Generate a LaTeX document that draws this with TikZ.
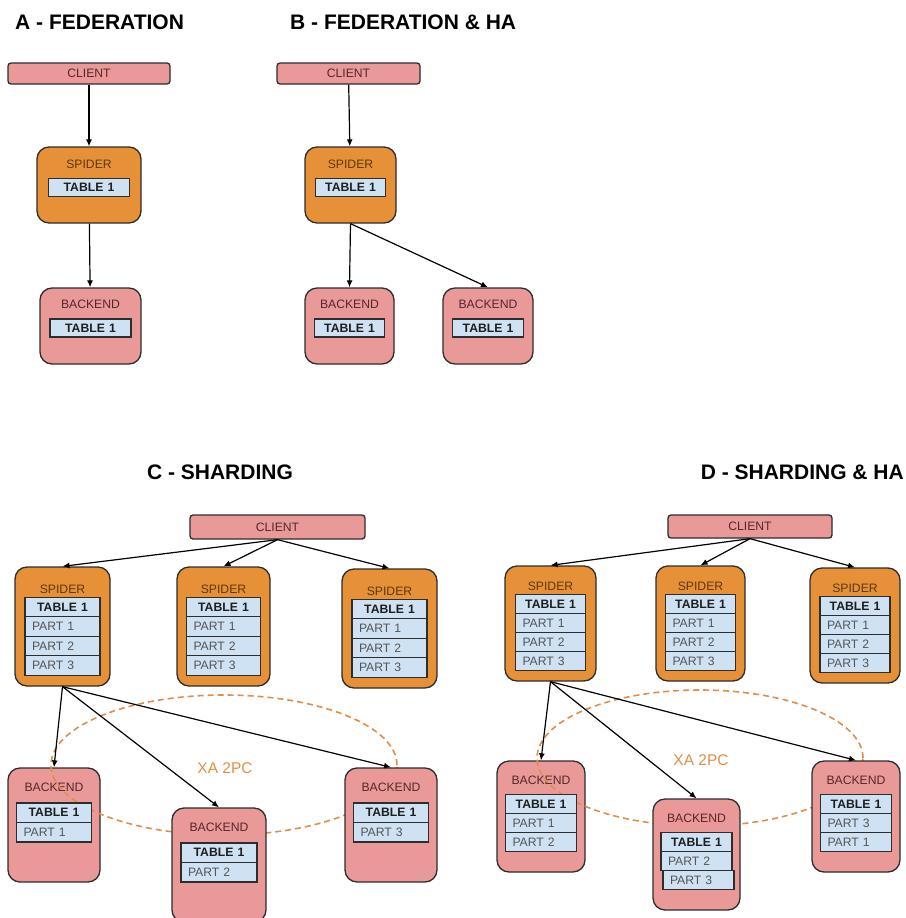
\documentclass[tikz,border=0pt]{standalone}
\usepackage{fontspec}
\setmainfont{Liberation Sans}
\usetikzlibrary{arrows.meta,positioning}
\definecolor{pinkfill}{RGB}{234,153,153}
\definecolor{orangefill}{RGB}{230,145,56}
\definecolor{bluefill}{RGB}{207,226,243}
\definecolor{edge}{RGB}{45,45,45}
\definecolor{xaorange}{RGB}{222,142,72}
\definecolor{spidertext}{RGB}{95,55,15}
\definecolor{backtext}{RGB}{85,40,40}
\definecolor{parttext}{RGB}{85,85,85}
\definecolor{darktext}{RGB}{30,30,30}

\begin{document}
\begin{tikzpicture}[x=1pt,y=-1pt,
    every node/.style={font=\fontsize{12.2}{13}\selectfont,inner sep=0pt},
    paneltitle/.style={font=\fontsize{21}{23}\selectfont\bfseries,text=black},
    client/.style={draw=edge,fill=pinkfill,line width=1.3pt,rounded corners=3pt,minimum height=21pt,text=backtext},
    spider/.style={draw=edge,fill=orangefill,line width=1.3pt,rounded corners=12pt},
    backend/.style={draw=edge,fill=pinkfill,line width=1.3pt,rounded corners=12pt},
    spname/.style={text=spidertext},
    bename/.style={text=backtext},
    tblcell/.style={draw=edge,fill=bluefill,line width=1.3pt,outer sep=0pt,inner xsep=7pt,minimum height=19.5pt,text width=#1,align=left,text=parttext},
    tblhead/.style={tblcell=#1,align=center,text=darktext,font=\fontsize{12.2}{13}\selectfont\bfseries},
    link/.style={-{Latex[length=7pt,width=6pt]},line width=1.2pt},
    xa/.style={draw=xaorange,line width=1.6pt,dash pattern=on 6pt off 4pt},
    xatext/.style={font=\fontsize{15.5}{17}\selectfont,text=xaorange}]
  \useasboundingbox (0,0) rectangle (905,918);

  % A - federation
  \node[paneltitle,anchor=west] (tA) at (15,22.5) {A - FEDERATION};
  \node[client,minimum width=162pt] (clA) at (89,73.5) {CLIENT};
  \node[spider,minimum width=104pt,minimum height=76pt] (spA) at (89,185) {};
  \node[spname,below=13pt of spA.north] (spAl) {SPIDER};
  \node[tblhead=67pt,minimum height=18pt,below=10pt of spAl] (spAt) {TABLE 1};
  \node[backend,minimum width=101pt,minimum height=76pt] (beA) at (90.5,326) {};
  \node[bename,below=12.5pt of beA.north] (beAl) {BACKEND};
  \node[tblhead=67pt,minimum height=18pt,below=10pt of beAl] (beAt) {TABLE 1};
  \draw[link] (clA) -- (spA);
  \draw[link] (spA) -- (beA);

  % B - federation & HA
  \node[paneltitle,anchor=west] (tB) at (290,22.5) {B - FEDERATION \& HA};
  \node[client,minimum width=143pt] (clB) at (348.5,73.5) {CLIENT};
  \node[spider,minimum width=91pt,minimum height=76pt] (spB) at (350.5,185) {};
  \node[spname,below=13pt of spB.north] (spBl) {SPIDER};
  \node[tblhead=56pt,minimum height=18pt,below=10pt of spBl] (spBt) {TABLE 1};
  \node[backend,minimum width=89pt,minimum height=76pt] (beB1) at (349.5,326) {};
  \node[bename,below=12.5pt of beB1.north] (beB1l) {BACKEND};
  \node[tblhead=56pt,minimum height=18pt,below=10pt of beB1l] (beB1t) {TABLE 1};
  \node[backend,minimum width=90pt,minimum height=76pt] (beB2) at (488,326) {};
  \node[bename,below=12.5pt of beB2.north] (beB2l) {BACKEND};
  \node[tblhead=57pt,minimum height=18pt,below=10pt of beB2l] (beB2t) {TABLE 1};
  \draw[link] (clB) -- (spB);
  \draw[link] (spB.south) -- (beB1.north);
  \draw[link] (spB.south) -- (beB2.north);

  % C - sharding
  \node[paneltitle] (tC) at (220,472) {C - SHARDING};
  \node[client,minimum width=175pt,minimum height=24pt] (clC) at (277.5,527) {CLIENT};
  \node[spider,minimum width=95pt,minimum height=119pt] (spC1) at (62.5,626.5) {};
  \node[spname,below=18pt of spC1.north] (spC1l) {SPIDER};
  \node[tblhead=61pt,below=3.8pt of spC1l] (spC1t) {TABLE 1};
  \node[tblcell=61pt,below=0pt of spC1t] (spC1a) {PART 1};
  \node[tblcell=61pt,below=0pt of spC1a] (spC1b) {PART 2};
  \node[tblcell=61pt,below=0pt of spC1b] (spC1c) {PART 3};
  \node[spider,minimum width=93pt,minimum height=119pt] (spC2) at (223.5,626.5) {};
  \node[spname,below=18pt of spC2.north] (spC2l) {SPIDER};
  \node[tblhead=60pt,below=3.8pt of spC2l] (spC2t) {TABLE 1};
  \node[tblcell=60pt,below=0pt of spC2t] (spC2a) {PART 1};
  \node[tblcell=60pt,below=0pt of spC2a] (spC2b) {PART 2};
  \node[tblcell=60pt,below=0pt of spC2b] (spC2c) {PART 3};
  \node[spider,minimum width=95pt,minimum height=119pt] (spC3) at (389.5,628.5) {};
  \node[spname,below=18pt of spC3.north] (spC3l) {SPIDER};
  \node[tblhead=61pt,below=3.8pt of spC3l] (spC3t) {TABLE 1};
  \node[tblcell=61pt,below=0pt of spC3t] (spC3a) {PART 1};
  \node[tblcell=61pt,below=0pt of spC3a] (spC3b) {PART 2};
  \node[tblcell=61pt,below=0pt of spC3b] (spC3c) {PART 3};
  \node[backend,minimum width=92pt,minimum height=114pt] (beC1) at (54,825) {};
  \node[bename,below=15.5pt of beC1.north] (beC1l) {BACKEND};
  \draw[xa] (224,765) ellipse [x radius=173pt,y radius=70pt];
  \node[backend,minimum width=94pt,minimum height=114pt] (beC2) at (219,865) {};
  \node[bename,below=15.5pt of beC2.north] (beC2l) {BACKEND};
  \node[backend,minimum width=92pt,minimum height=114pt] (beC3) at (391,825) {};
  \node[bename,below=15.5pt of beC3.north] (beC3l) {BACKEND};
  \node[tblhead=61pt,below=11pt of beC1l] (beC1t) {TABLE 1};
  \node[tblcell=61pt,below=0pt of beC1t] (beC1a) {PART 1};
  \node[tblhead=62pt,below=11pt of beC2l] (beC2t) {TABLE 1};
  \node[tblcell=62pt,below=0pt of beC2t] (beC2a) {PART 2};
  \node[tblhead=61pt,below=11pt of beC3l] (beC3t) {TABLE 1};
  \node[tblcell=61pt,below=0pt of beC3t] (beC3a) {PART 3};
  \node[xatext] (xaC) at (225,768) {XA 2PC};
  \draw[link] (clC.south) -- (spC1.north);
  \draw[link] (clC.south) -- (spC2.north);
  \draw[link] (clC.south) -- (spC3.north);
  \draw[link] (spC1.south) -- (beC1.north);
  \draw[link] (spC1.south) -- (beC2.north);
  \draw[link] (spC1.south) -- (beC3.north);

  % D - sharding & HA
  \node[paneltitle,anchor=east] (tD) at (904,472) {D - SHARDING \& HA};
  \node[client,minimum width=164pt,minimum height=23pt] (clD) at (750,526.5) {CLIENT};
  \node[spider,minimum width=91pt,minimum height=115pt] (spD1) at (550.5,623.5) {};
  \node[spname,below=16pt of spD1.north] (spD1l) {SPIDER};
  \node[tblhead=56pt,minimum height=19pt,below=4pt of spD1l] (spD1t) {TABLE 1};
  \node[tblcell=56pt,minimum height=19pt,below=0pt of spD1t] (spD1a) {PART 1};
  \node[tblcell=56pt,minimum height=19pt,below=0pt of spD1a] (spD1b) {PART 2};
  \node[tblcell=56pt,minimum height=19pt,below=0pt of spD1b] (spD1c) {PART 3};
  \node[spider,minimum width=89pt,minimum height=115pt] (spD2) at (700.5,623.5) {};
  \node[spname,below=16pt of spD2.north] (spD2l) {SPIDER};
  \node[tblhead=56pt,minimum height=19pt,below=4pt of spD2l] (spD2t) {TABLE 1};
  \node[tblcell=56pt,minimum height=19pt,below=0pt of spD2t] (spD2a) {PART 1};
  \node[tblcell=56pt,minimum height=19pt,below=0pt of spD2a] (spD2b) {PART 2};
  \node[tblcell=56pt,minimum height=19pt,below=0pt of spD2b] (spD2c) {PART 3};
  \node[spider,minimum width=90pt,minimum height=115pt] (spD3) at (855,625.5) {};
  \node[spname,below=16pt of spD3.north] (spD3l) {SPIDER};
  \node[tblhead=56pt,minimum height=19pt,below=4pt of spD3l] (spD3t) {TABLE 1};
  \node[tblcell=56pt,minimum height=19pt,below=0pt of spD3t] (spD3a) {PART 1};
  \node[tblcell=56pt,minimum height=19pt,below=0pt of spD3a] (spD3b) {PART 2};
  \node[tblcell=56pt,minimum height=19pt,below=0pt of spD3b] (spD3c) {PART 3};
  \node[backend,minimum width=88pt,minimum height=111pt] (beD1) at (541,816.5) {};
  \node[bename,below=15pt of beD1.north] (beD1l) {BACKEND};
  \draw[xa] (700,758) ellipse [x radius=163pt,y radius=68pt];
  \node[backend,minimum width=87pt,minimum height=111pt] (beD2) at (696.5,854.5) {};
  \node[bename,below=15pt of beD2.north] (beD2l) {BACKEND};
  \node[backend,minimum width=88pt,minimum height=111pt] (beD3) at (856,816.5) {};
  \node[bename,below=15pt of beD3.north] (beD3l) {BACKEND};
  \node[tblhead=57pt,minimum height=19pt,below=10pt of beD1l] (beD1t) {TABLE 1};
  \node[tblcell=57pt,minimum height=19pt,below=0pt of beD1t] (beD1a) {PART 1};
  \node[tblcell=57pt,minimum height=19pt,below=0pt of beD1a] (beD1b) {PART 2};
  \node[tblhead=57pt,minimum height=19pt,below=10pt of beD2l] (beD2t) {TABLE 1};
  \node[tblcell=57pt,minimum height=19pt,below=0pt of beD2t] (beD2a) {PART 2};
  \node[tblcell=57pt,minimum height=19pt,below=0pt of beD2a,xshift=2pt] (beD2b) {PART 3};
  \node[tblhead=57pt,minimum height=19pt,below=10pt of beD3l] (beD3t) {TABLE 1};
  \node[tblcell=57pt,minimum height=19pt,below=0pt of beD3t] (beD3a) {PART 3};
  \node[tblcell=57pt,minimum height=19pt,below=0pt of beD3a] (beD3b) {PART 1};
  \node[xatext] (xaD) at (701,760) {XA 2PC};
  \draw[link] (clD.south) -- (spD1.north);
  \draw[link] (clD.south) -- (spD2.north);
  \draw[link] (clD.south) -- (spD3.north);
  \draw[link] (spD1.south) -- (beD1.north);
  \draw[link] (spD1.south) -- (beD2.north);
  \draw[link] (spD1.south) -- (beD3.north);
\end{tikzpicture}
\end{document}
